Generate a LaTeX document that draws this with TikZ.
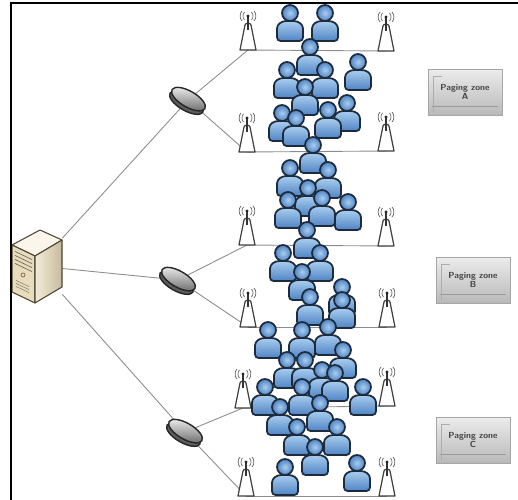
\documentclass[tikz,border=0pt]{standalone}
\usepackage{tikz}
\usetikzlibrary{positioning, calc}
\definecolor{UserLight}{HTML}{A9CDEF}
\definecolor{UserDark}{HTML}{4F84C4}
\definecolor{UserEdge}{HTML}{1D2B3D}
\definecolor{LinkGray}{HTML}{8C8C8C}
\definecolor{CaseFront}{HTML}{E9DCBC}
\definecolor{CaseSide}{HTML}{F3EBD6}
\definecolor{CaseTop}{HTML}{FAF6EC}
\definecolor{CaseEdge}{HTML}{4E4634}
\definecolor{RouterTop}{HTML}{C9C9C9}
\definecolor{RouterBody}{HTML}{5C5C5C}
\definecolor{RouterEdge}{HTML}{262626}

\begin{document}
\begin{tikzpicture}[
  x=0.02cm, y=-0.02cm,
  link/.style    = {draw=LinkGray, line width=0.5pt},
  zonebox/.style = {rectangle, draw=gray!70, top color=gray!15, bottom color=gray!55,
                    minimum width=1.48cm, minimum height=0.92cm, inner sep=0pt,
                    align=center, text=black!75,
                    font=\sffamily\bfseries\fontsize{5}{5.5}\selectfont},
  srvnode/.style = {rectangle, inner sep=0pt, minimum width=1cm, minimum height=1.46cm},
  % mobile user
  user/.pic = {
    \draw[UserEdge, line width=1pt, rounded corners=2, top color=UserLight, bottom color=UserDark]
      (-13,28) -- (-13,19) .. controls (-13,11) and (-8,8) .. (0,8)
      .. controls (8,8) and (13,11) .. (13,19) -- (13,28) -- cycle;
    \draw[UserEdge, line width=1pt, inner color=UserLight, outer color=UserDark] (0,0) circle (8);
  },
  % base station, origin at the foot
  bts/.pic = {
    \draw[black!75, line width=0.7pt, fill=white, line join=round]
      (-8,0) -- (-3,-25) to[out=90,in=90] (3,-25) -- (8,0) -- cycle;
    \draw[black!80, line width=0.9pt] (0,-20) -- (0,-33);
    \fill[black!85] (0,-34) circle (1.6);
    \draw[black!60, line width=0.4pt]
      (-3.5,-38) .. controls (-5.5,-36) and (-5.5,-32) .. (-3.5,-30)
      (3.5,-38) .. controls (5.5,-36) and (5.5,-32) .. (3.5,-30)
      (-6,-39) .. controls (-8.5,-37) and (-8.5,-31) .. (-6,-29)
      (6,-39) .. controls (8.5,-37) and (8.5,-31) .. (6,-29);
  },
  % controller puck
  router/.pic = {
    \begin{scope}[rotate=-30]
      \draw[RouterEdge, line width=0.8pt, fill=RouterBody] (0,3) ellipse [x radius=19, y radius=8];
      \draw[RouterEdge, line width=0.8pt, top color=RouterTop!40!white, bottom color=RouterTop!55!black]
        (0,-1) ellipse [x radius=19, y radius=8];
    \end{scope}
  },
  % switching centre (tower case)
  server/.pic = {
    \draw[CaseEdge, line width=0.6pt, fill=CaseTop, line join=round]
      (-25,-21) -- (-2,-10) -- (25,-26) -- (3,-36) -- cycle;
    \draw[CaseEdge, line width=0.6pt, fill=CaseFront, line join=round]
      (-25,-21) -- (-2,-10) -- (-2,37) -- (-25,26) -- cycle;
    \draw[CaseEdge, line width=0.6pt, left color=CaseSide, right color=CaseFront!85!black, line join=round]
      (-2,-10) -- (25,-26) -- (25,21) -- (-2,37) -- cycle;
    \foreach \dy in {5,9,13,17}
      \draw[CaseEdge!80, line width=0.4pt] (-22,-19.6+\dy) -- (-5,-11.4+\dy);
    \draw[CaseEdge!80, line width=0.4pt] (-14,9) circle (2);
    \foreach \dy in {34,37,40}
      \draw[CaseEdge!70, line width=0.3pt] (-21,-19.6+\dy) -- (-8,-13.4+\dy);
  },
]
\useasboundingbox (0,0) rectangle (518,500);

% Core and controllers
\node[srvnode] (srv) at (37,266) {};
\coordinate (rtA) at (188,100);
\coordinate (rtB) at (178,280);
\coordinate (rtC) at (185,432);

% Base stations, left and right of each cell row
\coordinate (t1l) at (248,50);  \coordinate (t1r) at (386,51);
\coordinate (t2l) at (247,152); \coordinate (t2r) at (386,151);
\coordinate (t3l) at (247,245); \coordinate (t3r) at (386,246);
\coordinate (t4l) at (248,327); \coordinate (t4r) at (387,327);
\coordinate (t5l) at (243,408); \coordinate (t5r) at (387,406);
\coordinate (t6l) at (246,496); \coordinate (t6r) at (387,496);

% Links
\draw[link] (srv) -- (rtA);
\draw[link] (srv) -- (rtB);
\draw[link] (srv) -- (rtC);
\draw[link] (rtA) -- (t1l);
\draw[link] (rtA) -- (t2l);
\draw[link] (rtB) -- (t3l);
\draw[link] (rtB) -- (t4l);
\draw[link] (rtC) -- (t5l);
\draw[link] (rtC) -- (t6l);
\foreach \r in {1,...,6}
  \draw[link] (t\r l) -- (t\r r);

% Icons
\pic at (srv) {server};
\pic at (rtA) {router};
\pic at (rtB) {router};
\pic at (rtC) {router};
\foreach \r in {1,...,6} {
  \pic at (t\r l) {bts};
  \pic at (t\r r) {bts};
}

% Users
\foreach \ux/\uy in {290/13, 325/13, 310/47, 358/62, 287/70, 325/70, 305/87, 347/103,
    328/110, 282/113, 296/118, 313/145, 290/168, 328/170, 308/188, 322/198, 288/200,
    348/202, 307/230, 283/253, 320/253, 302/272, 342/287, 310/297, 342/300, 328/327,
    268/330, 302/330, 343/350, 287/360, 305/360, 322/370, 335/373, 265/387, 302/387,
    363/387, 320/403, 280/407, 297/427, 337/427, 315/447, 357/463, 285/467}
  \pic at (\ux,\uy) {user};

% Paging zones
\node[zonebox] (zA) at (465,92)  {Paging zone\\A};
\node[zonebox] (zB) at (473,280) {Paging zone\\B};
\node[zonebox] (zC) at (473,440) {Paging zone\\C};
\foreach \z in {zA,zB,zC} {
  \draw[gray!80, line width=0.4pt] ([shift={(4,-9)}]\z.south west) -- ([shift={(-4,-9)}]\z.south east);
  \draw[gray!65, line width=0.3pt] ([shift={(6,-3)}]\z.south west) -- ([shift={(6,8)}]\z.north west) -- ([shift={(14,8)}]\z.north west);
}

% Frame
\draw[black, line width=1.4pt] (11,500) -- (11,3) -- (518,3);

\end{tikzpicture}
\end{document}
